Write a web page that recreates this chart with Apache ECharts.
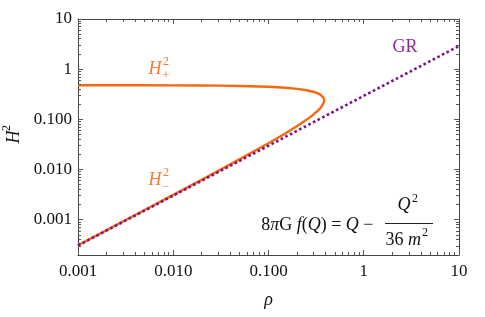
<!DOCTYPE html>
<html><head><meta charset="utf-8">
<script src="https://cdn.jsdelivr.net/npm/echarts@6/dist/echarts.min.js"></script>
<style>html,body{margin:0;padding:0;background:#fff}#c{width:485px;height:317px}</style>
</head><body><div id="c"></div>
<script>
// ---- data ----
const xMajor = [0.001, 0.01, 0.1, 1, 10];
const xMajorLabels = ['0.001', '0.010', '0.100', '1', '10'];
const yMajor = [0.001, 0.01, 0.1, 1, 10];
const yMajorLabels = ['0.001', '0.010', '0.100', '1', '10'];
const xMinor = [0.002,0.003,0.004,0.005,0.006,0.007,0.008,0.009,
                0.02,0.03,0.04,0.05,0.06,0.07,0.08,0.09,
                0.2,0.3,0.4,0.5,0.6,0.7,0.8,0.9,
                2,3,4,5,6,7,8,9];
const yMinor = [0.0003,0.0004,0.0005,0.0006,0.0007,0.0008,0.0009,
                0.002,0.003,0.004,0.005,0.006,0.007,0.008,0.009,
                0.02,0.03,0.04,0.05,0.06,0.07,0.08,0.09,
                0.2,0.3,0.4,0.5,0.6,0.7,0.8,0.9,
                2,3,4,5,6,7,8,9];
// H^2_+ branch (rho increasing up to the turning point)
const rhoPlus = [0.001,0.002,0.005,0.01,0.02,0.03,0.05,0.08,0.1,0.15,0.2,0.25,0.3,0.33,0.35,0.365,0.375,0.38,0.382,0.3835,0.384];
const hPlus   = [0.4797,0.4794,0.4784,0.4769,0.4737,0.4704,0.4638,0.4535,0.4464,0.4274,0.4061,0.3818,0.3523,0.33,0.3114,0.2934,0.2767,0.2645,0.2573,0.2487,0.24];
// H^2_- branch (from the turning point back down)
const rhoMinus = [0.3835,0.382,0.38,0.375,0.365,0.35,0.33,0.3,0.25,0.2,0.15,0.1,0.05,0.03,0.02,0.01,0.005,0.002,0.001];
const hMinus   = [0.2313,0.2227,0.2155,0.2033,0.1866,0.1686,0.15,0.1278,0.0982,0.0739,0.0527,0.0336,0.0162,0.00956,0.00633,0.00315,0.00157,0.000625,0.000313];
// GR line
const rhoGR = [0.001, 10];
const hGR = [0.00031, 2.9];

const X_MIN = 0.001, X_MAX = 10, Y_MIN = 0.0002, Y_MAX = 10;
const FONT = 'Liberation Serif';
const ORANGE = '#f8690f';
const PURPLE = '#7d1287';
const FRAME = '#444444';
const TICK = '#555555';

const curve = rhoPlus.map((r, i) => [r, hPlus[i]]).concat(rhoMinus.map((r, i) => [r, hMinus[i]]));
const gr = rhoGR.map((r, i) => [r, hGR[i]]);

function fmt(list, labels) {
  return v => { const k = list.findIndex(t => Math.abs(Math.log10(t) - Math.log10(v)) < 1e-6); return k >= 0 ? labels[k] : ''; };
}
function xAx(pos, labels) {
  return {
    type: 'log', min: X_MIN, max: X_MAX, position: pos,
    axisLine: { show: true, lineStyle: { color: FRAME, width: 1 } },
    axisTick: { show: false },
    axisLabel: labels ? { show: true, customValues: xMajor, margin: 8, color: '#111', fontFamily: FONT, fontSize: 17,
                formatter: fmt(xMajor, xMajorLabels) } : { show: false },
    splitLine: { show: false },
    name: labels ? 'ρ' : '', nameLocation: 'middle', nameGap: 36,
    nameTextStyle: { fontFamily: FONT, fontStyle: 'italic', fontSize: 18, color: '#111' }
  };
}
function yAx(pos, labels) {
  return {
    type: 'log', min: Y_MIN, max: Y_MAX, position: pos,
    axisLine: { show: true, lineStyle: { color: FRAME, width: 1 } },
    axisTick: { show: false },
    axisLabel: labels ? { show: true, customValues: yMajor, margin: 6, color: '#111', fontFamily: FONT, fontSize: 17,
                formatter: fmt(yMajor, yMajorLabels) } : { show: false },
    splitLine: { show: false }
  };
}

const chart = echarts.init(document.getElementById('c'), null, { renderer: 'canvas' });
const txt = (x, y, s, o) => ({ type: 'text', x, y, silent: true,
  style: Object.assign({ text: s, fontFamily: FONT, fontSize: 17, fill: '#111', textAlign: 'center', textVerticalAlign: 'middle' }, o || {}) });

chart.setOption({
  animation: false,
  backgroundColor: '#fff',
  grid: { left: 78, right: 26, top: 19, bottom: 62 },
  xAxis: [xAx('bottom', true), xAx('top', false)],
  yAxis: [yAx('left', true), yAx('right', false)],
  series: [
    { type: 'line', xAxisIndex: 0, yAxisIndex: 0, data: curve, showSymbol: false, symbol: 'none',
      lineStyle: { color: ORANGE, width: 2.4 }, clip: true, z: 2 },
    { type: 'line', xAxisIndex: 0, yAxisIndex: 0, data: gr, showSymbol: false, symbol: 'none',
      lineStyle: { color: PURPLE, width: 2.6, type: [2.6, 2.6], cap: 'butt' }, clip: true, z: 3 }
  ]
});

// frame ticks, placed through the chart's own log scales
const toPx = (x, y) => chart.convertToPixel({ gridIndex: 0 }, [x, y]);
const crisp = v => Math.round(v - 0.5) + 0.5;
const ticks = [];
const seg = (x1, y1, x2, y2) => ticks.push({ type: 'line', silent: true, z: 50,
  shape: { x1, y1, x2, y2 }, style: { stroke: TICK, lineWidth: 1 } });
xMajor.map(v => [v, 5]).concat(xMinor.map(v => [v, 3])).forEach(([v, len]) => {
  const b = toPx(v, Y_MIN), t = toPx(v, Y_MAX);
  const x = crisp(b[0]);
  seg(x, b[1], x, b[1] - len);
  seg(x, t[1], x, t[1] + len);
});
yMajor.map(v => [v, 5]).concat(yMinor.map(v => [v, 3])).forEach(([v, len]) => {
  const l = toPx(X_MIN, v), r = toPx(X_MAX, v);
  const y = crisp(l[1]);
  seg(l[0], y, l[0] + len, y);
  seg(r[0], y, r[0] - len, y);
});

const labels = [
  { type: 'group', x: 14, y: 134, rotation: Math.PI / 2, children: [
    txt(-3, 0, 'H', { fontStyle: 'italic', fontSize: 18 }),
    txt(6, -7, '2', { fontSize: 12 })
  ]},
  txt(155, 69, 'H', { fontStyle: 'italic', fontSize: 18, fill: '#f47a2c' }),
  txt(166, 62, '2', { fontSize: 12, fill: '#f47a2c' }),
  txt(166, 76, '+', { fontSize: 13, fill: '#f47a2c' }),
  txt(155, 180, 'H', { fontStyle: 'italic', fontSize: 18, fill: '#f47a2c' }),
  txt(166, 173, '2', { fontSize: 12, fill: '#f47a2c' }),
  txt(166, 187, '−', { fontSize: 12, fill: '#f47a2c' }),
  txt(405, 47, 'GR', { fontSize: 18, fill: '#8a2a8f' }),
  { type: 'text', x: 378, y: 225, silent: true, style: {
      text: '{n|8}{i|π}{n|G }{i|f}{n|(}{i|Q}{n|) = }{i|Q}{n| − }',
      textAlign: 'right', textVerticalAlign: 'middle', fill: '#111',
      rich: { n: { fontFamily: FONT, fontSize: 18, fill: '#111' }, i: { fontFamily: FONT, fontSize: 18, fontStyle: 'italic', fill: '#111' } } } },
  txt(404, 205, 'Q', { fontStyle: 'italic', fontSize: 18 }),
  txt(415, 199, '2', { fontSize: 12 }),
  { type: 'line', silent: true, shape: { x1: 385, y1: 223.5, x2: 433, y2: 223.5 }, style: { stroke: '#222', lineWidth: 1 } },
  { type: 'text', x: 421, y: 240, silent: true, style: {
      text: '{n|36 }{i|m}', textAlign: 'right', textVerticalAlign: 'middle',
      rich: { n: { fontFamily: FONT, fontSize: 18, fill: '#111' }, i: { fontFamily: FONT, fontSize: 18, fontStyle: 'italic', fill: '#111' } } } },
  txt(425, 233, '2', { fontSize: 12 })
];

chart.setOption({ graphic: labels.concat(ticks) });
</script></body></html>
